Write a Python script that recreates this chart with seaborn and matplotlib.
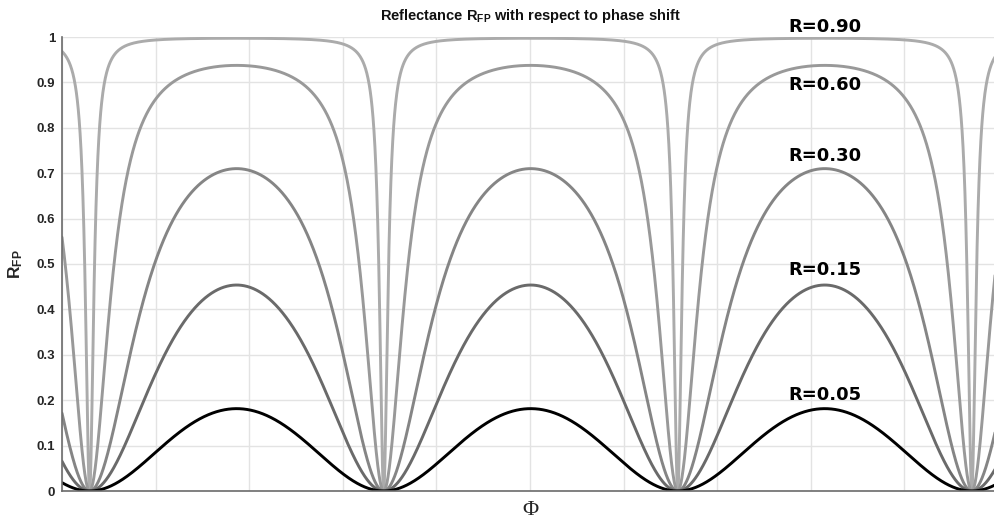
import numpy as np
import pandas as pd
import matplotlib
matplotlib.use("Agg")
import matplotlib.pyplot as plt
import seaborn as sns

# Data
mirror_R = [0.90, 0.60, 0.30, 0.15, 0.05]          # labelled reflectivities
labels = ["R=0.90", "R=0.60", "R=0.30", "R=0.15", "R=0.05"]
x_range = (0.0, 10.0)                                # axis units (ticks 0..10, unlabelled)
phase_offset = 0.295                                 # minima positions
y_ticks = [0, 0.1, 0.2, 0.3, 0.4, 0.5, 0.6, 0.7, 0.8, 0.9, 1.0]

# Styles / positions (not data)
colors = ["#ababab", "#999999", "#858585", "#6a6a6a", "#000000"]
label_xy = [(8.15, 1.022), (8.15, 0.894), (8.15, 0.738), (8.15, 0.487), (8.15, 0.211)]

x = np.linspace(x_range[0], x_range[1], 3001)
frames = []
for R, lab in zip(mirror_R, labels):
    F = 4 * R / (1 - R) ** 2
    s = np.sin(x - phase_offset) ** 2
    frames.append(pd.DataFrame({"phi": x, "RFP": F * s / (1 + F * s), "curve": lab}))
df = pd.concat(frames, ignore_index=True)

sns.set_theme(style="whitegrid")
plt.rcParams["font.family"] = ["Liberation Sans", "DejaVu Sans"]
plt.rcParams["mathtext.fontset"] = "custom"
plt.rcParams["mathtext.rm"] = "Liberation Sans:bold"
plt.rcParams["mathtext.bf"] = "Liberation Sans:bold"
plt.rcParams["mathtext.it"] = "Liberation Sans:bold"

fig = plt.figure(figsize=(9.95, 5.27), dpi=100)
ax = fig.add_axes([62 / 995, 1 - 491 / 527, (998 - 62) / 995, (491 - 37) / 527])

for lab, c in zip(labels, colors):
    sns.lineplot(data=df[df["curve"] == lab], x="phi", y="RFP", color=c,
                 linewidth=2.1, ax=ax, legend=False)

ax.set_xlim(*x_range)
ax.set_ylim(0, 1)
ax.set_xticks(np.arange(0, 11, 1))
ax.set_xticklabels([])
ax.set_yticks(y_ticks)
ax.set_yticklabels(["%g" % v for v in y_ticks], fontweight="bold", fontsize=9.5, color="#262626")

ax.grid(True, color="#e3e3e3", linewidth=1.0)
for side in ["top", "right"]:
    ax.spines[side].set_visible(False)
for side in ["left", "bottom"]:
    ax.spines[side].set_visible(True)
    ax.spines[side].set_color("#6b6b6b")
    ax.spines[side].set_linewidth(1.2)
ax.tick_params(axis="both", direction="in", length=7, width=1.0, color="#262626", pad=5)
ax.tick_params(axis="x", length=6)

ax.set_xlabel("Φ", family=["Liberation Serif", "DejaVu Serif"], fontsize=16, labelpad=2, color="#262626")
ax.set_ylabel(r"R$_{\mathrm{FP}}$", fontsize=12.5, fontweight="bold", labelpad=8, color="#262626")
ax.set_title(r"Reflectance R$_{\mathrm{FP}}$ with respect to phase shift",
             fontsize=10.5, fontweight="bold", pad=12, color="#111111")

for lab, (lx, ly) in zip(labels, label_xy):
    ax.text(lx, ly, lab, ha="center", va="center", fontsize=13, fontweight="bold",
            family=["DejaVu Sans"], color="black", clip_on=False)

fig.savefig("out.png", dpi=100)
